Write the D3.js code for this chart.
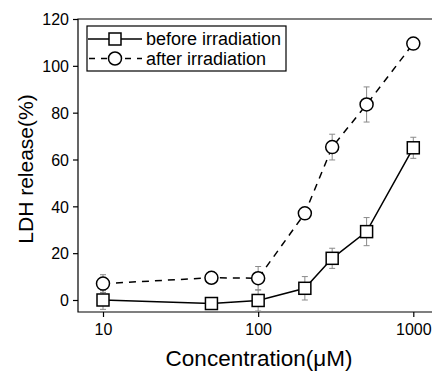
<!DOCTYPE html>
<html>
<head>
<meta charset="utf-8">
<script src="https://cdn.jsdelivr.net/npm/d3@7"></script>
<style>
  body { margin: 0; background: #fff; }
  text { font-family: "Liberation Sans", Arial, sans-serif; fill: #000; }
</style>
</head>
<body>
<div id="chart"></div>
<script>
// data
const concentrations = [10, 50, 100, 200, 300, 500, 1000];
const beforeValues = [0, -1.5, -0.2, 5, 17.8, 29.2, 65];
const beforeErrors = [4, 1, 4.5, 5, 4.3, 6, 4.5];
const afterValues = [7, 9.5, 9.3, 37, 65.3, 83.5, 109.5];
const afterErrors = [3.8, 1, 5, 1.5, 5.5, 7.5, 2];
const xTicks = [10, 100, 1000];
const yTicks = [0, 20, 40, 60, 80, 100, 120];
const seriesNames = ["before irradiation", "after irradiation"];

const width = 432;
const height = 371;
const frame = { left: 78, top: 19, right: 432, bottom: 312 };

const xScale = d3.scaleLog().domain([10, 1000]).range([103, 413.3]);
const yScale = d3.scaleLinear().domain([0, 120]).range([300, 19]);

const svg = d3.select("#chart")
  .append("svg")
  .attr("width", width)
  .attr("height", height);

// frame lines (left, top, bottom)
svg.append("path")
  .attr("d", `M${frame.right},${frame.top}H${frame.left}V${frame.bottom}H${frame.right}`)
  .attr("fill", "none")
  .attr("stroke", "#000")
  .attr("stroke-width", 1.2);

// y axis
const yAxis = d3.axisLeft(yScale).tickValues(yTicks).tickSize(5).tickPadding(4);
svg.append("g")
  .attr("transform", `translate(${frame.left},0)`)
  .call(yAxis)
  .call(g => g.select(".domain").remove())
  .call(g => g.selectAll("text").attr("font-size", 16).attr("dy", "0.36em"))
  .call(g => g.selectAll(".tick line").attr("stroke-width", 1.2));

// x axis
const xAxis = d3.axisBottom(xScale).tickValues(xTicks).tickFormat(d3.format("d")).tickSize(5).tickPadding(7);
svg.append("g")
  .attr("transform", `translate(0,${frame.bottom})`)
  .call(xAxis)
  .call(g => g.select(".domain").remove())
  .call(g => g.selectAll("text").attr("font-size", 16))
  .call(g => g.selectAll(".tick line").attr("stroke-width", 1.2));

// axis titles
svg.append("text")
  .attr("x", 259)
  .attr("y", 366)
  .attr("text-anchor", "middle")
  .attr("font-size", 22.5)
  .text("Concentration(μM)");

svg.append("text")
  .attr("transform", "translate(33,169) rotate(-90)")
  .attr("text-anchor", "middle")
  .attr("font-size", 21)
  .text("LDH release(%)");

const before = concentrations.map((c, i) => ({ c, v: beforeValues[i], e: beforeErrors[i] }));
const after = concentrations.map((c, i) => ({ c, v: afterValues[i], e: afterErrors[i] }));

const line = d3.line()
  .x(d => xScale(d.c))
  .y(d => yScale(d.v));

// error bars (drawn under the lines and markers)
function errorBars(data) {
  const g = svg.append("g").attr("stroke", "#8a8a8a").attr("stroke-width", 1);
  data.forEach(d => {
    const x = xScale(d.c);
    const y0 = yScale(d.v - d.e);
    const y1 = yScale(d.v + d.e);
    g.append("path")
      .attr("d", `M${x},${y0}V${y1}M${x - 3},${y0}H${x + 3}M${x - 3},${y1}H${x + 3}`)
      .attr("fill", "none");
  });
}
errorBars(after);
errorBars(before);

svg.append("path")
  .attr("d", line(after))
  .attr("fill", "none")
  .attr("stroke", "#000")
  .attr("stroke-width", 1.5)
  .attr("stroke-dasharray", "7,6");

svg.append("path")
  .attr("d", line(before))
  .attr("fill", "none")
  .attr("stroke", "#000")
  .attr("stroke-width", 1.5);

// markers
svg.append("g")
  .selectAll("circle")
  .data(after)
  .join("circle")
  .attr("cx", d => xScale(d.c))
  .attr("cy", d => yScale(d.v))
  .attr("r", 6.5)
  .attr("fill", "#fff")
  .attr("stroke", "#000")
  .attr("stroke-width", 1.5);

svg.append("g")
  .selectAll("rect")
  .data(before)
  .join("rect")
  .attr("x", d => xScale(d.c) - 6)
  .attr("y", d => yScale(d.v) - 6)
  .attr("width", 12)
  .attr("height", 12)
  .attr("fill", "#fff")
  .attr("stroke", "#000")
  .attr("stroke-width", 1.5);

// legend
const legend = svg.append("g");
legend.append("rect")
  .attr("x", 87)
  .attr("y", 26)
  .attr("width", 199)
  .attr("height", 45)
  .attr("fill", "#fff")
  .attr("stroke", "#000")
  .attr("stroke-width", 1.2);

legend.append("line")
  .attr("x1", 88).attr("x2", 142)
  .attr("y1", 39).attr("y2", 39)
  .attr("stroke", "#000").attr("stroke-width", 1.5);
legend.append("rect")
  .attr("x", 109).attr("y", 33)
  .attr("width", 12).attr("height", 12)
  .attr("fill", "#fff").attr("stroke", "#000").attr("stroke-width", 1.5);

legend.append("line")
  .attr("x1", 89).attr("x2", 142)
  .attr("y1", 58.5).attr("y2", 58.5)
  .attr("stroke", "#000").attr("stroke-width", 1.5)
  .attr("stroke-dasharray", "6,6");
legend.append("circle")
  .attr("cx", 115).attr("cy", 58.5).attr("r", 6.5)
  .attr("fill", "#fff").attr("stroke", "#000").attr("stroke-width", 1.5);

legend.selectAll("text.name")
  .data(seriesNames)
  .join("text")
  .attr("class", "name")
  .attr("x", 146)
  .attr("y", (d, i) => 39 + i * 19.5)
  .attr("dy", "0.36em")
  .attr("font-size", 18)
  .text(d => d);
</script>
</body>
</html>
